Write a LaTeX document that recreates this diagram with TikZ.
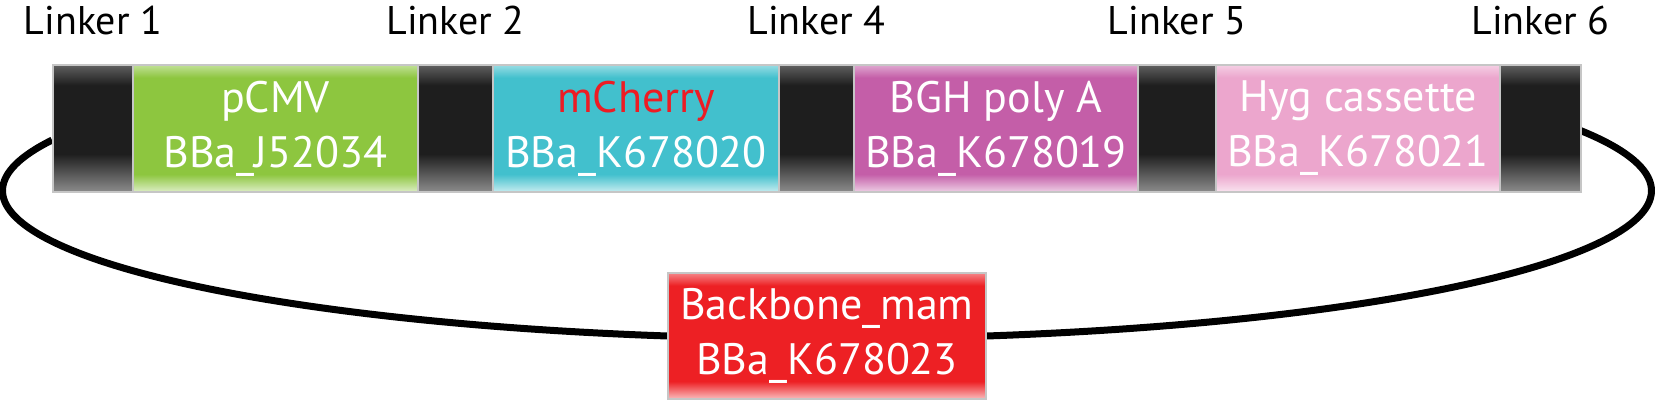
\documentclass[tikz,border=0pt]{standalone}
\usepackage{fontspec}
\setmainfont{PT Sans}
\usepackage{xcolor}
\usepackage{tikz}
\usetikzlibrary{backgrounds}

\definecolor{pcmvgreen}{RGB}{141,198,63}
\definecolor{cherrycyan}{RGB}{66,192,205}
\definecolor{bghpurple}{RGB}{196,94,168}
\definecolor{hygpink}{RGB}{236,166,205}
\definecolor{backred}{RGB}{237,32,36}
\definecolor{cherryred}{RGB}{237,28,36}
\definecolor{linkblack}{RGB}{30,30,30}
\definecolor{linktop}{RGB}{95,95,95}
\definecolor{linkbot}{RGB}{140,140,140}

\newcommand{\partfont}{\fontsize{44}{55}\selectfont}
\newcommand{\namefont}{\fontsize{40}{48}\selectfont}
\newcommand{\partshading}[2]{%
  \colorlet{#1top}{#2!55!white}\colorlet{#1bot}{#2!30!white}%
  \pgfdeclareverticalshading{#1}{100bp}{color(0bp)=(#1bot); color(25bp)=(#1bot);
    color(32bp)=(#2); color(70bp)=(#2); color(75bp)=(#1top); color(100bp)=(#1top)}}

\pgfdeclareverticalshading{linkershade}{100bp}{color(0bp)=(linkbot); color(25bp)=(linkbot);
  color(40bp)=(linkblack); color(67bp)=(linkblack); color(75bp)=(linktop); color(100bp)=(linktop)}
\partshading{pcmvshade}{pcmvgreen}
\partshading{cherryshade}{cherrycyan}
\partshading{bghshade}{bghpurple}
\partshading{hygshade}{hygpink}
\partshading{backshade}{backred}

\begin{document}
\begin{tikzpicture}[x=1pt, y=1pt,
    linker/.style={draw=gray!45, line width=1.5pt, minimum height=127pt, inner sep=0pt, shade, shading=linkershade},
    part/.style={draw=gray!45, line width=1.5pt, minimum height=127pt, inner sep=0pt, shade, text=white, align=center, font=\partfont},
    linkname/.style={anchor=base, font=\namefont}]
    \useasboundingbox (0,0) rectangle (1655,401);

    % linkers
    \node[linker, minimum width=80pt] (l1) at (93,272.5) {};
    \node[linker, minimum width=75pt] (l2) at (455.5,272.5) {};
    \node[linker, minimum width=75pt] (l4) at (816.5,272.5) {};
    \node[linker, minimum width=78pt] (l5) at (1177,272.5) {};
    \node[linker, minimum width=81pt] (l6) at (1540.5,272.5) {};

    % parts
    \node[part, minimum width=285pt, shading=pcmvshade] (pcmv) at (275.5,272.5) {pCMV\\BBa\_J52034};
    \node[part, minimum width=286pt, shading=cherryshade] (cherry) at (636,272.5) {\textcolor{cherryred}{mCherry}\\BBa\_K678020};
    \node[part, minimum width=284pt, shading=bghshade] (bgh) at (996,272.5) {BGH poly A\\BBa\_K678019};
    \node[part, minimum width=284pt, shading=hygshade] (hyg) at (1358,272.5) {Hyg cassette\\BBa\_K678021};

    % backbone
    \node[part, minimum width=318pt, minimum height=126pt, shading=backshade] (bb) at (827,65) {Backbone\_mam\\BBa\_K678023};

    % linker names
    \node[linkname] (n1) at (93,366) {Linker 1};
    \node[linkname] (n2) at (455.5,366) {Linker 2};
    \node[linkname] (n4) at (816.5,366) {Linker 4};
    \node[linkname] (n5) at (1177,366) {Linker 5};
    \node[linkname] (n6) at (1540.5,366) {Linker 6};

    % plasmid loop
    \begin{scope}[on background layer]
        \draw[line width=7pt] (bb.west) arc[start angle=259, end angle=160, x radius=821.5, y radius=148];
        \draw[line width=7pt] (bb.east) arc[start angle=281, end angle=384, x radius=821.5, y radius=148];
    \end{scope}
\end{tikzpicture}
\end{document}
